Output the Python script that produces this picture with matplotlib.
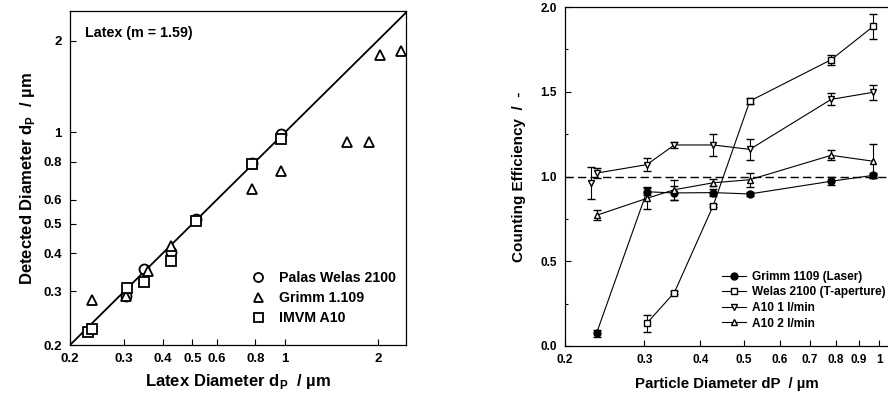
import matplotlib
matplotlib.use("Agg")
import matplotlib.pyplot as plt
from matplotlib.ticker import FixedLocator, NullFormatter, NullLocator

plt.rcParams['font.family'] = ['Liberation Sans', 'DejaVu Sans']
plt.rcParams['font.weight'] = 'bold'
plt.rcParams['mathtext.fontset'] = 'custom'
plt.rcParams['mathtext.bf'] = 'Liberation Sans:bold'
plt.rcParams['mathtext.rm'] = 'Liberation Sans:bold'

# ---------------- Left panel data ----------------
palas_x = [0.305, 0.349, 0.426, 0.514, 0.781, 0.966]
palas_y = [0.290, 0.354, 0.403, 0.518, 0.792, 0.985]
grimm_x = [0.236, 0.305, 0.358, 0.426, 0.781, 0.966, 1.587, 1.871, 2.03, 2.38]
grimm_y = [0.281, 0.290, 0.351, 0.423, 0.649, 0.745, 0.925, 0.925, 1.79, 1.85]
imvm_x = [0.229, 0.236, 0.306, 0.349, 0.426, 0.514, 0.781, 0.966]
imvm_y = [0.221, 0.226, 0.307, 0.323, 0.378, 0.510, 0.785, 0.949]
ref_line = [0.2, 2.5]
left_ticks = [0.2, 0.3, 0.4, 0.5, 0.6, 0.8, 1, 2]
left_ticklabels = ['0.2', '0.3', '0.4', '0.5', '0.6', '0.8', '1', '2']

# ---------------- Right panel data ----------------
g_x = [0.235, 0.304, 0.35, 0.427, 0.515, 0.781, 0.969]
g_y = [0.075, 0.91, 0.903, 0.905, 0.897, 0.972, 1.007]
g_e = [0.02, 0.02, 0.04, 0.02, 0.01, 0.025, 0.015]
w_x = [0.304, 0.35, 0.427, 0.515, 0.781, 0.969]
w_y = [0.134, 0.315, 0.828, 1.445, 1.689, 1.886]
w_e = [0.05, 0.01, 0.01, 0.02, 0.03, 0.075]
a1_x = [0.235, 0.304, 0.35, 0.427, 0.515, 0.781, 0.969]
a1_y = [1.02, 1.07, 1.186, 1.186, 1.16, 1.455, 1.497]
a1_e = [0.03, 0.04, 0.02, 0.065, 0.06, 0.035, 0.045]
a1_extra_x = [0.229]
a1_extra_y = [0.96]
a1_extra_e = [0.095]
a2_x = [0.235, 0.304, 0.35, 0.427, 0.515, 0.781, 0.969]
a2_y = [0.771, 0.871, 0.922, 0.963, 0.981, 1.125, 1.09]
a2_e = [0.03, 0.065, 0.06, 0.02, 0.04, 0.03, 0.1]
right_xticks = [0.2, 0.3, 0.4, 0.5, 0.6, 0.7, 0.8, 0.9, 1]
right_xticklabels = ['0.2', '0.3', '0.4', '0.5', '0.6', '0.7', '0.8', '0.9', '1']
right_yticks = [0.0, 0.5, 1.0, 1.5, 2.0]

W, H = 888, 396
fig = plt.figure(figsize=(W / 100, H / 100), dpi=100)

# ---- left axes ----
axL = fig.add_axes([70 / W, (H - 345) / H, (406 - 70) / W, (345 - 11) / H])
axL.set_xscale('log')
axL.set_yscale('log')
axL.set_xlim(0.2, 2.47)
axL.set_ylim(0.2, 2.5)
axL.plot(ref_line, ref_line, color='black', lw=1.3, zorder=1)
mk = dict(ls='none', mfc='white', mec='black', mew=1.3, ms=7.2, zorder=3)
axL.plot(palas_x, palas_y, marker='o', label='Palas Welas 2100', **mk)
axL.plot(grimm_x, grimm_y, marker='^', label='Grimm 1.109', **mk)
axL.plot(imvm_x, imvm_y, marker='s', label='IMVM A10', **mk)
axL.xaxis.set_major_locator(FixedLocator(left_ticks))
axL.yaxis.set_major_locator(FixedLocator(left_ticks))
axL.set_xticklabels(left_ticklabels)
axL.set_yticklabels(left_ticklabels)
axL.xaxis.set_minor_locator(NullLocator())
axL.yaxis.set_minor_locator(NullLocator())
axL.tick_params(direction='in', length=4, width=0.8, labelsize=9.5, pad=6)
for s in axL.spines.values():
    s.set_linewidth(0.9)
axL.text(0.045, 0.955, 'Latex (m = 1.59)', transform=axL.transAxes,
         fontsize=10.3, fontweight='bold', va='top', ha='left')
axL.set_xlabel(r'Latex Diameter d$_{\mathbf{P}}$  / µm', fontsize=12,
               fontweight='bold', labelpad=5)
axL.set_ylabel(r'Detected Diameter d$_{\mathbf{P}}$  / µm', fontsize=12,
               fontweight='bold', labelpad=4)
legL = axL.legend(loc='lower left', bbox_to_anchor=(0.5, 0.025), frameon=False,
                  fontsize=10.2, handletextpad=0.9, labelspacing=0.45,
                  handlelength=1.2, markerscale=0.9, borderpad=0.3)
for t in legL.get_texts():
    t.set_fontweight('bold')

# ---- right axes ----
axR = fig.add_axes([565 / W, (H - 346) / H, (889 - 565) / W, (346 - 7) / H])
axR.set_xscale('log')
axR.set_xlim(0.2, 1.05)
axR.set_ylim(0.0, 2.0)
axR.axhline(1.0, color='black', ls=(0, (6, 3)), lw=1.0, zorder=1)
ek = dict(color='black', lw=0.8, ms=5.0, mew=1.0, capsize=3, elinewidth=0.8,
          capthick=0.8, mec='black')
c1 = axR.errorbar(g_x, g_y, yerr=g_e, marker='o', mfc='black', label='Grimm 1109 (Laser)', **ek)
c2 = axR.errorbar(w_x, w_y, yerr=w_e, marker='s', mfc='white', label='Welas 2100 (T-aperture)', **ek)
c3 = axR.errorbar(a1_x, a1_y, yerr=a1_e, marker='v', mfc='white', label='A10 1 l/min', **ek)
axR.errorbar(a1_extra_x, a1_extra_y, yerr=a1_extra_e, marker='v', mfc='white',
             ls='none', **ek)
c4 = axR.errorbar(a2_x, a2_y, yerr=a2_e, marker='^', mfc='white', label='A10 2 l/min', **ek)
axR.xaxis.set_major_locator(FixedLocator(right_xticks))
axR.set_xticklabels(right_xticklabels)
axR.xaxis.set_minor_locator(NullLocator())
axR.xaxis.set_minor_formatter(NullFormatter())
axR.yaxis.set_major_locator(FixedLocator(right_yticks))
axR.set_yticklabels(['%.1f' % v for v in right_yticks])
axR.yaxis.set_minor_locator(FixedLocator([0.25, 0.75, 1.25, 1.75]))
axR.tick_params(which='both', direction='in', length=4, width=0.8, labelsize=8.5, pad=6)
axR.tick_params(which='minor', length=2.5)
axR.spines['right'].set_visible(False)
for s in axR.spines.values():
    s.set_linewidth(0.9)
axR.set_xlabel('Particle Diameter dP  / µm', fontsize=10.8, fontweight='bold', labelpad=8)
axR.set_ylabel('Counting Efficiency  /  -', fontsize=11, fontweight='bold', labelpad=10)
handles = [c[0] for c in (c1, c2, c3, c4)]
labels = [c.get_label() for c in (c1, c2, c3, c4)]
legR = axR.legend(handles, labels, loc='lower left', bbox_to_anchor=(0.455, 0.02),
                  frameon=False, fontsize=8.6, handletextpad=0.55, labelspacing=0.3,
                  handlelength=2.0, borderpad=0.3)
for t in legR.get_texts():
    t.set_fontweight('bold')

fig.savefig('out.png', dpi=100)
